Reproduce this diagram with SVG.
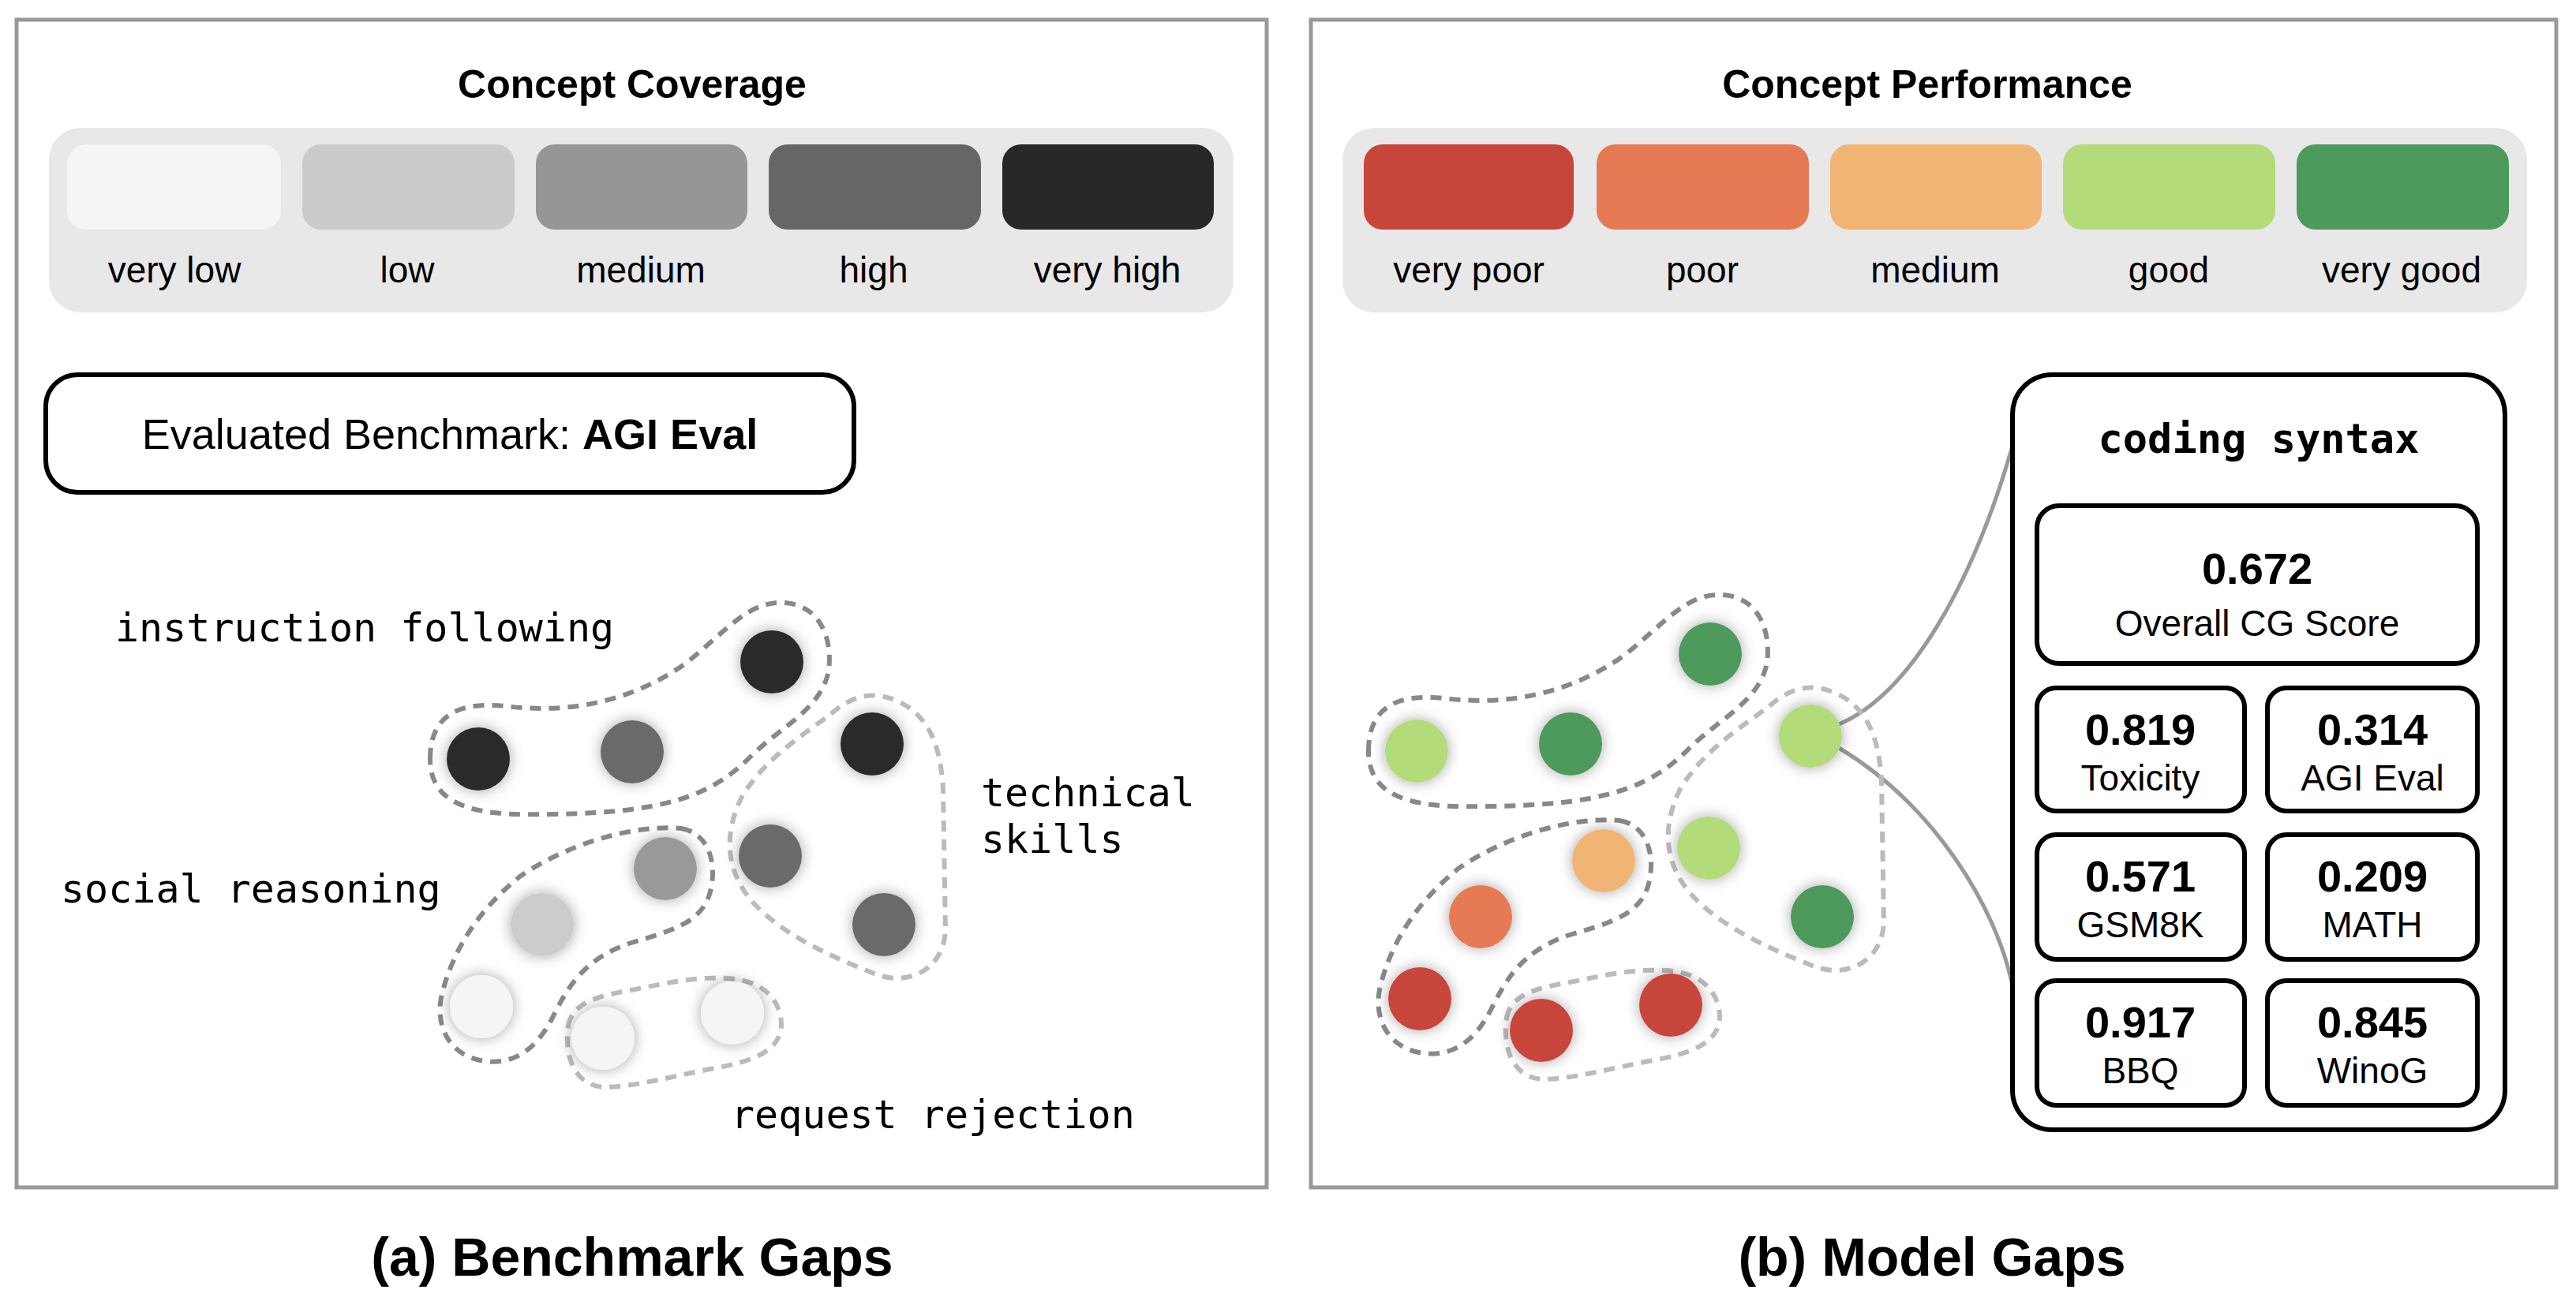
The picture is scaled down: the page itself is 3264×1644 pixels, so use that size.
<svg xmlns="http://www.w3.org/2000/svg" width="3264" height="1644" viewBox="0 0 3264 1644">
<style>
.panel{fill:#fff;stroke:#999;stroke-width:5}
.sans{font-family:"Liberation Sans",Arial,sans-serif}
.title{font-size:50px;font-weight:bold;text-anchor:middle}
.leg{font-size:46px;text-anchor:middle}
.mono{font-family:"DejaVu Sans Mono",monospace;font-size:50px}
.box{fill:#fff;stroke:#000;stroke-width:6}
.num{font-size:56px;font-weight:bold;text-anchor:middle}
.lab{font-size:46px;text-anchor:middle}
.dd{fill:none;stroke:#888;stroke-width:6;stroke-dasharray:14 10}
.dl{fill:none;stroke:#bbb;stroke-width:6;stroke-dasharray:14 10}
.conn{fill:none;stroke:#999;stroke-width:5}
</style>
<defs>
<filter id="sh" x="-50%" y="-50%" width="200%" height="200%"><feDropShadow dx="0" dy="0" stdDeviation="9" flood-color="#000" flood-opacity="0.35"/></filter>
<filter id="bsh" x="-20%" y="-20%" width="140%" height="140%"><feDropShadow dx="0" dy="0" stdDeviation="6" flood-color="#000" flood-opacity="0.25"/></filter>
</defs>
<rect width="3264" height="1644" fill="#fff"/>
<rect class="panel" x="21" y="25" width="1584" height="1480"/>
<rect class="panel" x="1661" y="25" width="1578" height="1480"/>

<g id="legend-coverage" class="sans">
<text class="title" x="801" y="124">Concept Coverage</text>
<rect x="62" y="162" width="1501" height="234" rx="40" fill="#e8e8e8"/>
<rect x="85" y="183" width="271" height="108" rx="24" fill="#f5f5f5"/>
<rect x="383" y="183" width="269" height="108" rx="24" fill="#cbcbcb"/>
<rect x="679" y="183" width="268" height="108" rx="24" fill="#969696"/>
<rect x="974" y="183" width="269" height="108" rx="24" fill="#666"/>
<rect x="1270" y="183" width="268" height="108" rx="24" fill="#272727"/>
<text class="leg" x="221" y="358">very low</text>
<text class="leg" x="516" y="358">low</text>
<text class="leg" x="812" y="358">medium</text>
<text class="leg" x="1107" y="358">high</text>
<text class="leg" x="1403" y="358">very high</text>
</g>

<g id="legend-performance" class="sans">
<text class="title" x="2442" y="124">Concept Performance</text>
<rect x="1701" y="162" width="1501" height="234" rx="40" fill="#e8e8e8"/>
<rect x="1728" y="183" width="266" height="108" rx="24" fill="#c8453a"/>
<rect x="2023" y="183" width="269" height="108" rx="24" fill="#e57a55"/>
<rect x="2319" y="183" width="268" height="108" rx="24" fill="#f0b574"/>
<rect x="2614" y="183" width="269" height="108" rx="24" fill="#b3db7a"/>
<rect x="2910" y="183" width="269" height="108" rx="24" fill="#4e9a5c"/>
<text class="leg" x="1861" y="358">very poor</text>
<text class="leg" x="2157" y="358">poor</text>
<text class="leg" x="2452" y="358">medium</text>
<text class="leg" x="2748" y="358">good</text>
<text class="leg" x="3043" y="358">very good</text>
</g>

<g id="benchmark-box" class="sans">
<rect class="box" x="58" y="475" width="1024" height="149" rx="40"/>
<text x="570" y="569" font-size="54" text-anchor="middle">Evaluated Benchmark: <tspan font-weight="bold">AGI Eval</tspan></text>
</g>

<g id="left-blobs">
<path class="dd" d="M545,962 C545,900 590,890 640,895 C720,905 800,890 870,840 C920,800 950,760 995,764 C1040,768 1055,810 1050,850 C1040,900 990,920 950,960 C900,1010 840,1030 700,1032 C620,1034 545,1030 545,962 Z"/>
<path class="dl" d="M1053,905 C1080,880 1110,875 1140,890 C1180,910 1192,950 1195,1000 L1198,1180 C1195,1230 1150,1250 1110,1235 C1060,1215 1000,1190 960,1150 C920,1110 915,1060 940,1010 C970,960 1020,930 1053,905 Z"/>
<path class="dd" d="M863,1050 C895,1055 910,1090 900,1130 C890,1170 850,1180 800,1195 C740,1215 720,1250 700,1290 C680,1330 650,1350 615,1345 C570,1340 550,1300 560,1260 C575,1200 610,1150 660,1110 C720,1070 800,1045 863,1050 Z"/>
<path class="dl" d="M720,1300 C725,1270 760,1262 800,1255 C850,1245 880,1238 920,1240 C970,1242 990,1270 990,1300 C988,1330 960,1345 900,1355 C850,1365 800,1378 765,1378 C725,1375 715,1335 720,1300 Z"/>
</g>
<g id="left-nodes" filter="url(#sh)">
<circle cx="978" cy="839" r="40" fill="#2b2b2b"/>
<circle cx="801" cy="953" r="40" fill="#6b6b6b"/>
<circle cx="606" cy="962" r="40" fill="#2b2b2b"/>
<circle cx="1105" cy="943" r="40" fill="#2b2b2b"/>
<circle cx="976" cy="1085" r="40" fill="#6b6b6b"/>
<circle cx="1120" cy="1172" r="40" fill="#6b6b6b"/>
<circle cx="843" cy="1101" r="40" fill="#999"/>
<circle cx="687" cy="1172" r="40" fill="#ccc"/>
<circle cx="610" cy="1276" r="40" fill="#f5f5f5"/>
<circle cx="764" cy="1316" r="40" fill="#f5f5f5"/>
<circle cx="928" cy="1284" r="40" fill="#f5f5f5"/>
</g>
<g id="left-labels" class="mono">
<text x="146" y="813">instruction following</text>
<text x="1243" y="1022">technical</text>
<text x="1243" y="1081">skills</text>
<text x="77" y="1144">social reasoning</text>
<text x="926" y="1430">request rejection</text>
</g>

<g id="connectors">
<path class="conn" d="M2330,918 C2420,880 2500,740 2550,565"/>
<path class="conn" d="M2330,948 C2450,1020 2530,1150 2550,1250"/>
</g>

<g id="right-blobs" transform="translate(1189,-10)">
<path class="dd" d="M545,962 C545,900 590,890 640,895 C720,905 800,890 870,840 C920,800 950,760 995,764 C1040,768 1055,810 1050,850 C1040,900 990,920 950,960 C900,1010 840,1030 700,1032 C620,1034 545,1030 545,962 Z"/>
<path class="dl" d="M1053,905 C1080,880 1110,875 1140,890 C1180,910 1192,950 1195,1000 L1198,1180 C1195,1230 1150,1250 1110,1235 C1060,1215 1000,1190 960,1150 C920,1110 915,1060 940,1010 C970,960 1020,930 1053,905 Z"/>
<path class="dd" d="M863,1050 C895,1055 910,1090 900,1130 C890,1170 850,1180 800,1195 C740,1215 720,1250 700,1290 C680,1330 650,1350 615,1345 C570,1340 550,1300 560,1260 C575,1200 610,1150 660,1110 C720,1070 800,1045 863,1050 Z"/>
<path class="dl" d="M720,1300 C725,1270 760,1262 800,1255 C850,1245 880,1238 920,1240 C970,1242 990,1270 990,1300 C988,1330 960,1345 900,1355 C850,1365 800,1378 765,1378 C725,1375 715,1335 720,1300 Z"/>
</g>
<g id="right-nodes" filter="url(#sh)" transform="translate(1189,-10)">
<circle cx="978" cy="839" r="40" fill="#4e9a5c"/>
<circle cx="801" cy="953" r="40" fill="#4e9a5c"/>
<circle cx="606" cy="962" r="40" fill="#b3db7a"/>
<circle cx="1105" cy="943" r="40" fill="#b3db7a"/>
<circle cx="976" cy="1085" r="40" fill="#b3db7a"/>
<circle cx="1120" cy="1172" r="40" fill="#4e9a5c"/>
<circle cx="843" cy="1101" r="40" fill="#f0b574"/>
<circle cx="687" cy="1172" r="40" fill="#e57a55"/>
<circle cx="610" cy="1276" r="40" fill="#c8453a"/>
<circle cx="764" cy="1316" r="40" fill="#c8453a"/>
<circle cx="928" cy="1284" r="40" fill="#c8453a"/>
</g>

<g id="detail-card" class="sans">
<rect class="box" x="2550" y="475" width="624" height="957" rx="50"/>
<text x="2862" y="574" font-family="DejaVu Sans Mono,monospace" font-size="52" font-weight="bold" text-anchor="middle">coding syntax</text>
<rect class="box" x="2581" y="641" width="558" height="200" rx="28"/>
<text class="num" x="2860" y="740" font-size="66">0.672</text>
<text class="lab" x="2860" y="806">Overall CG Score</text>
<rect class="box" x="2581" y="872" width="263" height="156" rx="24"/>
<text class="num" x="2712" y="944">0.819</text><text class="lab" x="2712" y="1002">Toxicity</text>
<rect class="box" x="2873" y="872" width="266" height="156" rx="24"/>
<text class="num" x="3006" y="944">0.314</text><text class="lab" x="3006" y="1002">AGI Eval</text>
<rect class="box" x="2581" y="1058" width="263" height="158" rx="24"/>
<text class="num" x="2712" y="1130">0.571</text><text class="lab" x="2712" y="1188">GSM8K</text>
<rect class="box" x="2873" y="1058" width="266" height="158" rx="24"/>
<text class="num" x="3006" y="1130">0.209</text><text class="lab" x="3006" y="1188">MATH</text>
<rect class="box" x="2581" y="1243" width="263" height="158" rx="24"/>
<text class="num" x="2712" y="1315">0.917</text><text class="lab" x="2712" y="1373">BBQ</text>
<rect class="box" x="2873" y="1243" width="266" height="158" rx="24"/>
<text class="num" x="3006" y="1315">0.845</text><text class="lab" x="3006" y="1373">WinoG</text>
</g>

<g id="captions" class="sans">
<text x="801" y="1617" font-size="68" font-weight="bold" text-anchor="middle">(a) Benchmark Gaps</text>
<text x="2448" y="1617" font-size="68" font-weight="bold" text-anchor="middle">(b) Model Gaps</text>
</g>
</svg>
